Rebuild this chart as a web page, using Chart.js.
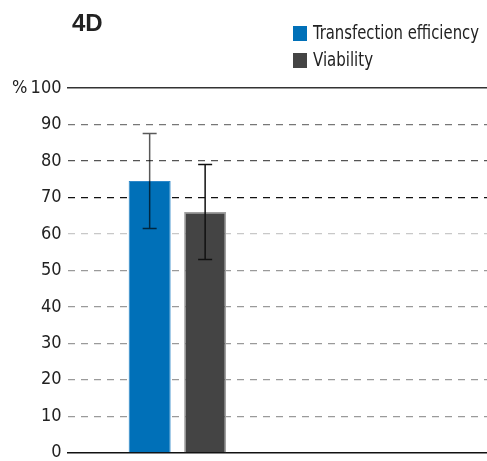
<!DOCTYPE html>
<html>
<head>
<meta charset="utf-8">
<script src="https://cdn.jsdelivr.net/npm/chart.js@4/dist/chart.umd.min.js"></script>
<style>
  body { margin: 0; background: #fff; overflow: hidden; }
  #wrap { width: 487px; height: 461px; overflow: hidden; }
</style>
</head>
<body>
<!-- canvas is a bit wider than the view: the plot runs past the right edge like the original -->
<div id="wrap"><canvas id="chart" width="507" height="461"></canvas></div>
<script>
const categories = ['', ''];
const seriesNames = ['Transfection efficiency', 'Viability'];
const efficiency = [74.5, null];
const viability = [66, null];
const efficiencyErr = [13, null];
const viabilityErr = [13, null];
const yTicks = [0, 10, 20, 30, 40, 50, 60, 70, 80, 90, 100];
const chartTitle = '4D';

const condensed = "'DejaVu Sans Condensed', 'Liberation Sans Narrow', sans-serif";
const narrow = "'Liberation Sans Narrow', 'DejaVu Sans Condensed', sans-serif";

// grid line colour per tick value
const gridColor = (ctx) => {
    const v = ctx.tick && ctx.tick.value;
    if (v === 0 || v === 100) return 'rgba(0,0,0,0)';
    if (v === 90) return '#777';
    if (v === 80) return '#555';
    if (v === 70) return '#111';
    if (v === 60) return '#c8c8c8';
    return '#9a9a9a';
};

const errorBars = {
    id: 'errorBars',
    afterDatasetsDraw(chart) {
        const ctx = chart.ctx;
        const y = chart.scales.y;
        chart.data.datasets.forEach((ds, di) => {
            const meta = chart.getDatasetMeta(di);
            ds.data.forEach((v, i) => {
                const err = ds.errors[i];
                if (v == null || err == null) return;
                const bar = meta.data[i];
                const top = y.getPixelForValue(v + err);
                const bot = y.getPixelForValue(v - err);
                ctx.save();
                ctx.strokeStyle = ds.errorColor;
                ctx.lineWidth = 1.5;
                ctx.beginPath();
                ctx.moveTo(bar.x, top);
                ctx.lineTo(bar.x, bot);
                ctx.moveTo(bar.x - 7, top);
                ctx.lineTo(bar.x + 7, top);
                ctx.moveTo(bar.x - 7, bot);
                ctx.lineTo(bar.x + 7, bot);
                ctx.stroke();
                ctx.restore();
            });
        });
    }
};

const titleAndLegend = {
    id: 'titleAndLegend',
    afterDraw(chart) {
        const ctx = chart.ctx;
        ctx.save();
        ctx.fillStyle = '#222';
        ctx.font = "bold 24px 'Liberation Sans', Arial, sans-serif";
        ctx.textBaseline = 'alphabetic';
        ctx.fillText(chartTitle, 72, 31);

        chart.data.datasets.forEach((ds, i) => {
            const y0 = 26 + i * 27;
            ctx.fillStyle = ds.backgroundColor;
            ctx.fillRect(293, y0, 14, 15);
            ctx.fillStyle = '#222';
            ctx.font = '20px ' + narrow;
            ctx.textBaseline = 'middle';
            ctx.fillText(ds.label, 313, y0 + 7.5, i === 0 ? 166 : 60);
        });
        ctx.restore();
    }
};

new Chart(document.getElementById('chart'), {
    type: 'bar',
    data: {
        labels: categories,
        datasets: [{
            label: seriesNames[0],
            data: efficiency,
            errors: efficiencyErr,
            errorColor: 'rgba(0,0,0,0.65)',
            backgroundColor: '#0070b8',
            borderColor: '#2d88c9',
            borderWidth: 1
        }, {
            label: seriesNames[1],
            data: viability,
            errors: viabilityErr,
            errorColor: '#111',
            backgroundColor: '#444444',
            borderColor: '#a0a0a0',
            borderWidth: 1.5
        }]
    },
    options: {
        responsive: false,
        animation: false,
        categoryPercentage: 0.505,
        barPercentage: 0.757,
        layout: { padding: { top: 88, left: 6, right: 0, bottom: 0 } },
        plugins: {
            legend: { display: false },
            tooltip: { enabled: false }
        },
        scales: {
            x: {
                ticks: { display: false },
                grid: { display: false, drawTicks: false },
                border: { display: true, color: '#111', width: 1.5 }
            },
            xTop: {
                position: 'top',
                ticks: { display: false },
                grid: { display: false, drawTicks: false },
                border: { display: true, color: '#333', width: 1.5 }
            },
            y: {
                min: 0,
                max: 100,
                afterBuildTicks: (scale) => {
                    scale.ticks = yTicks.map(v => ({ value: v }));
                },
                ticks: {
                    padding: 6,
                    color: '#222',
                    // small line height keeps the "0" label from pushing the plot up
                    font: { family: condensed, size: 18, lineHeight: 0.25 },
                    callback: (v) => v === 100 ? '%\u2009100' : v
                },
                grid: {
                    color: gridColor,
                    lineWidth: 1.2,
                    drawTicks: false
                },
                border: { display: false, dash: [7, 6] }
            }
        }
    },
    plugins: [errorBars, titleAndLegend]
});
</script>
</body>
</html>
